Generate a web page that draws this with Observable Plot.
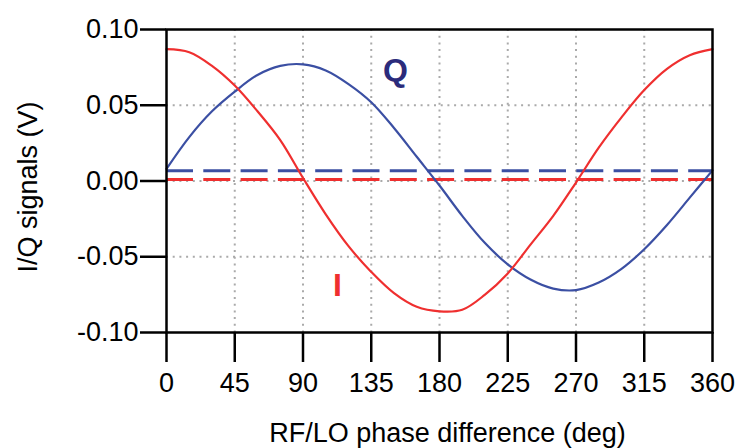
<!DOCTYPE html>
<html><head><meta charset="utf-8">
<script src="https://cdn.jsdelivr.net/npm/d3@7"></script>
<script src="https://cdn.jsdelivr.net/npm/@observablehq/plot@0.6"></script>
<style>body{margin:0;background:#fff} svg{display:block}</style>
</head><body><div id="chart"></div>
<script>
const phase   = [0, 15, 30, 45, 60, 75, 90, 105, 120, 135, 150, 165, 180, 195, 210, 225, 240, 255, 270, 285, 300, 315, 330, 345, 360];
const iSignal = [0.087, 0.085, 0.076, 0.063, 0.046, 0.027, 0.002, -0.022, -0.043, -0.060, -0.074, -0.083, -0.086, -0.085, -0.075, -0.061, -0.042, -0.023, -0.001, 0.022, 0.042, 0.060, 0.074, 0.083, 0.087];
const qSignal = [0.008, 0.029, 0.046, 0.059, 0.070, 0.076, 0.077, 0.073, 0.064, 0.052, 0.035, 0.016, -0.003, -0.023, -0.041, -0.055, -0.065, -0.071, -0.072, -0.067, -0.058, -0.045, -0.029, -0.011, 0.007];
const iOffset = 0.001;
const qOffset = 0.0067;
const xTicks = [0, 45, 90, 135, 180, 225, 270, 315, 360];
const yTicks = [-0.10, -0.05, 0.00, 0.05, 0.10];
const xLabel = "RF/LO phase difference (deg)";
const yLabel = "I/Q signals (V)";
const seriesNames = ["I", "Q"];
const namePhase = [112.7, 151];
const nameValue = [-0.0758, 0.066];

const RED = "#ef2f2f", BLUE = "#3b4fa3", NAVY = "#2b2b7b";
const rows = phase.map((p, i) => ({phase: p, I: iSignal[i], Q: qSignal[i]}));
const nameRows = seriesNames.map((n, i) => ({name: n, phase: namePhase[i], v: nameValue[i]}));
const gridStyle = {stroke: "#aaa", strokeOpacity: 1, strokeWidth: 2, strokeDasharray: "2,4.7"};

const chart = Plot.plot({
  width: 738, height: 448,
  marginLeft: 166, marginRight: 26, marginTop: 29, marginBottom: 116,
  style: {fontFamily: "'Liberation Sans', Arial, sans-serif", background: "#fff", color: "#000", overflow: "visible"},
  x: {domain: [0, 360]},
  y: {domain: [-0.1, 0.1]},
  marks: [
    Plot.gridX(xTicks.slice(1, -1), gridStyle),
    Plot.gridY(yTicks.slice(1, -1), gridStyle),
    Plot.ruleY([qOffset], {stroke: BLUE, strokeWidth: 3, strokeDasharray: "27,10.3"}),
    Plot.ruleY([iOffset], {stroke: RED, strokeWidth: 3, strokeDasharray: "27,10.3"}),
    Plot.line(rows, {x: "phase", y: "Q", stroke: BLUE, strokeWidth: 2.2, curve: "catmull-rom"}),
    Plot.line(rows, {x: "phase", y: "I", stroke: RED, strokeWidth: 2.2, curve: "catmull-rom"}),
    Plot.frame({stroke: "#000", strokeWidth: 2.5}),
    Plot.axisX(xTicks, {tickSize: 30, tickPadding: 10, fontSize: 27, strokeWidth: 2.5, label: null, tickFormat: d => String(d)}),
    Plot.axisY(yTicks, {tickSize: 26, tickPadding: 2, fontSize: 27, strokeWidth: 2.5, label: null, tickFormat: d => d.toFixed(2)}),
    Plot.text([xLabel], {frameAnchor: "bottom", dx: 8, dy: 109, lineAnchor: "bottom", textAnchor: "middle", fontSize: 27, fill: "#000"}),
    Plot.text([yLabel], {frameAnchor: "left", dx: -138, dy: 6, rotate: -90, lineAnchor: "middle", textAnchor: "middle", fontSize: 27, fill: "#000"}),
    Plot.text(nameRows.filter(d => d.name === "Q"), {x: "phase", y: "v", text: "name", lineAnchor: "bottom", fontSize: 32, fontWeight: "bold", fill: NAVY}),
    Plot.text(nameRows.filter(d => d.name === "I"), {x: "phase", y: "v", text: "name", lineAnchor: "bottom", fontSize: 32, fontWeight: "bold", fill: RED})
  ]
});
document.getElementById("chart").appendChild(chart);
</script>
</body></html>
